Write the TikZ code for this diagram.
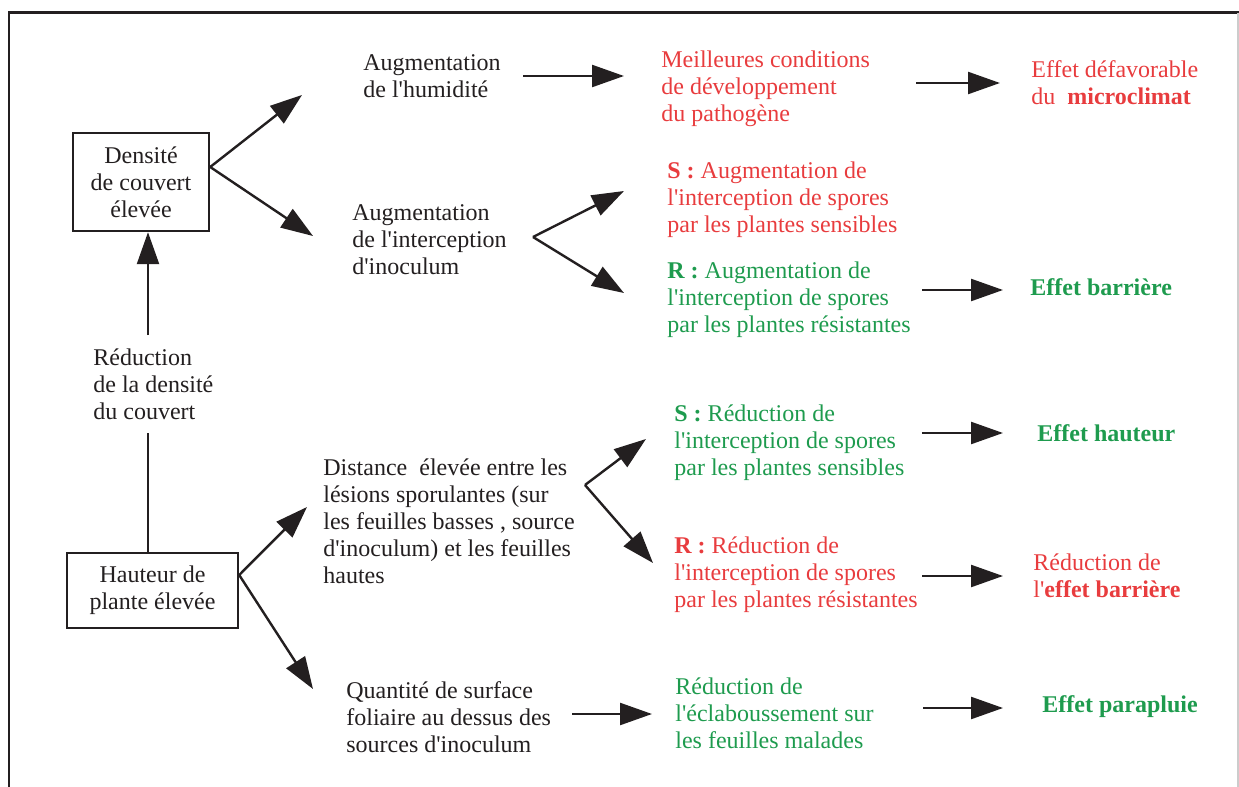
\documentclass[tikz,border=0pt]{standalone}
\usepackage{fontspec}
\setmainfont{Liberation Serif}[Ligatures=TeXOff]
\usetikzlibrary{arrows.meta}
\definecolor{ink}{RGB}{35,31,32}
\definecolor{redtxt}{RGB}{232,60,62}
\definecolor{greentxt}{RGB}{30,155,78}
\begin{document}
\begin{tikzpicture}[x=0.5pt, y=-0.5pt,
		txt/.style={anchor=west, align=left, inner sep=0pt, text=ink, font=\fontsize{12}{13.5}\selectfont},
		redt/.style={txt, text=redtxt},
		greent/.style={txt, text=greentxt},
		effect/.style={txt, font=\fontsize{12}{13.5}\selectfont\bfseries},
		box/.style={draw=ink, line width=1.2pt, align=center, inner sep=0pt, text=ink, font=\fontsize{12}{13.5}\selectfont},
		link/.style={draw=ink, line width=1.2pt},
		arr/.style={link, -{Triangle[length=16pt,width=11pt]}}]
		\useasboundingbox (0,0) rectangle (1239,787);
		\draw[ink, line width=1.3pt] (9,787) -- (9,12.5) -- (1239,12.5);
		\draw[black!20, line width=0.6pt] (1238,12.5) -- (1238,787);

		\node (dens) [box, minimum width=68pt, minimum height=49pt] at (141,182) {Densité\\de couvert\\élevée};
		\node (haut) [box, minimum width=85.5pt, minimum height=37.5pt] at (152.5,590.5) {Hauteur de\\plante élevée};
		\node (reduc) [txt, inner ysep=6.5pt] at (93,384) {Réduction\\de la densité\\du couvert};

		\node (humid) [txt] at (363,76) {Augmentation\\de l'humidité};
		\node (inter) [txt] at (352,240) {Augmentation\\de l'interception\\d'inoculum};
		\node (meill) [redt] at (661,89) {Meilleures conditions\\de développement\\du pathogène};
		\node (defav) [redt] at (1031,83) {Effet défavorable\\du~~\textbf{microclimat}};
		\node (saug) [redt] at (667,200) {\textbf{S :} Augmentation de\\l'interception de spores\\par les plantes sensibles};
		\node (raug) [greent] at (667,300) {\textbf{R :} Augmentation de\\l'interception de spores\\par les plantes résistantes};
		\node (barr) [effect, text=greentxt] at (1030,287) {Effet barrière};

		\node (dist) [txt] at (323,521) {Distance~ élevée entre les\\lésions sporulantes (sur\\les feuilles basses , source\\d'inoculum) et les feuilles\\hautes};
		\node (sred) [greent] at (674,443) {\textbf{S :} Réduction de\\l'interception de spores\\par les plantes sensibles};
		\node (hautef) [effect, text=greentxt] at (1037,433) {Effet hauteur};
		\node (rred) [redt] at (674,575) {\textbf{R :} Réduction de\\l'interception de spores\\par les plantes résistantes};
		\node (reff) [redt] at (1033,576) {Réduction de\\l'\textbf{effet barrière}};
		\node (quant) [txt] at (346,717) {Quantité de surface\\foliaire au dessus des\\sources d'inoculum};
		\node (eclab) [greent] at (675,713) {Réduction de\\l'éclaboussement sur\\les feuilles malades};
		\node (parapl) [effect, text=greentxt] at (1042,707) {Effet parapluie};

		\coordinate (densfork) at (dens.east |- 0,167);
		\coordinate (hautfork) at (haut.east |- 0,575);
		\coordinate (interfork) at (533,237);
		\coordinate (distfork) at (585,485);
		\coordinate (humidtip) at (302,95);
		\coordinate (intertip) at (313,236);
		\coordinate (sactip) at (624,191);
		\coordinate (ractip) at (624,293);
		\coordinate (disttip) at (307,507);
		\coordinate (quanttip) at (313,689);
		\coordinate (sredtip) at (646,439);
		\coordinate (rredtip) at (653,563);

		\draw[link] (haut.north -| 148,0) -- (reduc.south -| 148,0);
		\draw[arr] (reduc.north -| 148,0) -- (dens.south -| 148,0);
		\draw[arr] (densfork) -- (humidtip);
		\draw[arr] (densfork) -- (intertip);
		\draw[arr] (hautfork) -- (disttip);
		\draw[arr] (hautfork) -- (quanttip);
		\draw[arr] (interfork) -- (sactip);
		\draw[arr] (interfork) -- (ractip);
		\draw[arr] (distfork) -- (sredtip);
		\draw[arr] (distfork) -- (rredtip);

		\draw[arr, shorten <=11pt, shorten >=18.5pt] (humid.east) -- (humid.east -| meill.west);
		\draw[arr, shorten <=23pt, shorten >=15.5pt] (meill.east |- defav.west) -- (defav.west);
		\draw[arr, shorten <=5.5pt, shorten >=13.5pt] (raug.east |- 0,290) -- (barr.west |- 0,290);
		\draw[arr, shorten <=8.5pt, shorten >=17pt] (sred.east |- hautef.west) -- (hautef.west);
		\draw[arr, shorten <=2pt, shorten >=15pt] (rred.east |- reff.west) -- (reff.west);
		\draw[arr, shorten <=10.5pt, shorten >=11.5pt] (quant.east |- 0,714) -- (eclab.west |- 0,714);
		\draw[arr, shorten <=24.5pt, shorten >=19.5pt] (eclab.east |- 0,708) -- (parapl.west |- 0,708);
	\end{tikzpicture}
\end{document}
